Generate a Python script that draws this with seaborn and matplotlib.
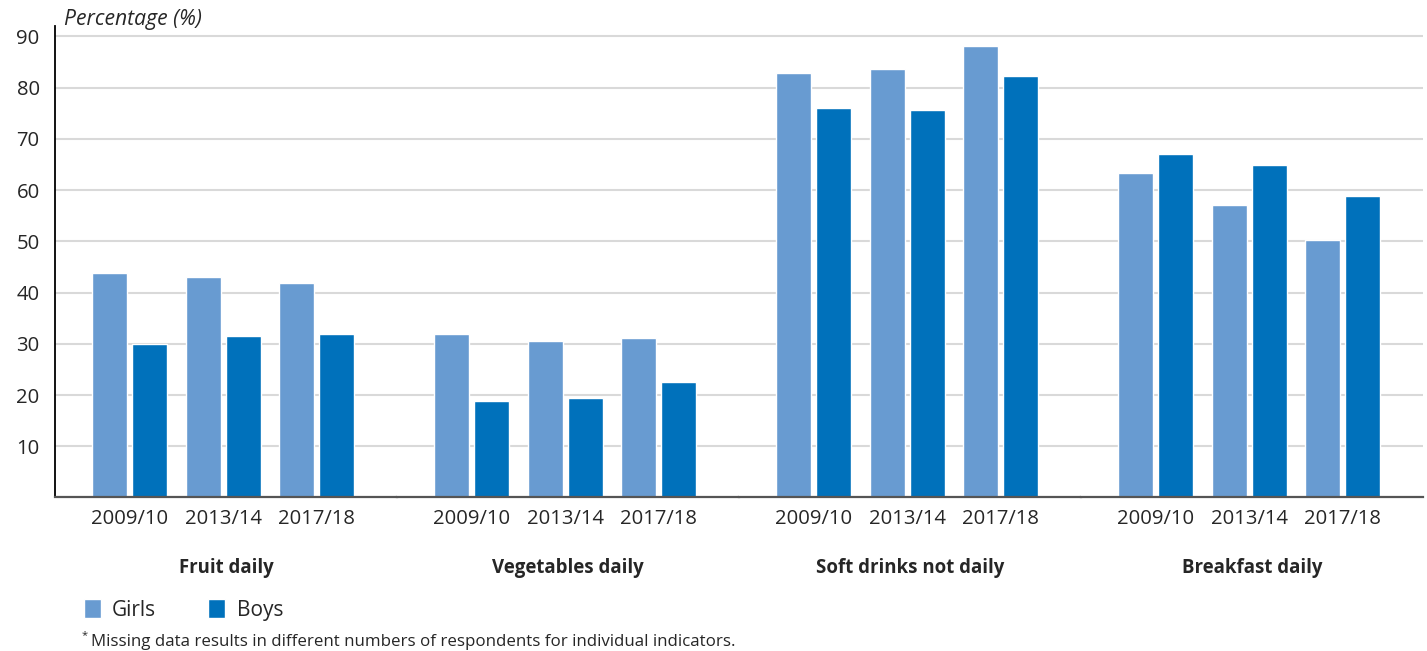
import pandas as pd
import matplotlib
matplotlib.use('Agg')
import matplotlib.pyplot as plt
import seaborn as sns

# values
indicators = ['Fruit daily', 'Vegetables daily', 'Soft drinks not daily', 'Breakfast daily']
surveys = ['2009/10', '2013/14', '2017/18']
sexes = ['Girls', 'Boys']
girls = [[43.8, 43.0, 41.9], [31.9, 30.5, 31.1], [82.8, 83.6, 88.1], [63.3, 57.1, 50.3]]
boys = [[30.0, 31.5, 31.9], [18.8, 19.4, 22.5], [76.0, 75.6, 82.3], [67.0, 64.9, 58.8]]
colors = ['#689bd1', '#0071bb']

rows = []
for i, ind in enumerate(indicators):
    for j, yr in enumerate(surveys):
        rows.append((ind, yr, 'Girls', girls[i][j]))
        rows.append((ind, yr, 'Boys', boys[i][j]))
df = pd.DataFrame(rows, columns=['indicator', 'survey', 'sex', 'pct'])

sns.set_style('white')
plt.rcParams['font.family'] = ['Open Sans', 'DejaVu Sans']
fs = 14.6

fig, axes = plt.subplots(1, 4, figsize=(14.27, 6.51), dpi=100, sharey=True)
fig.subplots_adjust(left=0.0385, right=0.9972, bottom=0.2358, top=0.96, wspace=0)

xlo, xhi = -0.8, 2.86
for k, (ax, ind) in enumerate(zip(axes, indicators)):
    sub = df[df['indicator'] == ind]
    sns.barplot(data=sub, x='survey', y='pct', hue='sex', order=surveys,
                hue_order=sexes, palette=colors, width=0.856, gap=0.126,
                saturation=1, ax=ax, legend=(k == 0))
    ax.set_xlim(xlo, xhi)
    ax.set_ylim(0, 92)
    ax.set_yticks(range(10, 100, 10))
    ax.grid(axis='y', color='#d9d9d9', lw=1.5)
    ax.set_axisbelow(True)
    for s in ['top', 'right', 'left']:
        ax.spines[s].set_visible(False)
    ax.spines['bottom'].set_color('#555555')
    ax.spines['bottom'].set_linewidth(1.6)
    ax.tick_params(axis='x', which='major', length=0, pad=8.5, labelsize=fs)
    # group separator ticks
    ax.set_xticks([xhi] if k else [xlo, xhi], minor=True)
    ax.tick_params(axis='x', which='minor', length=10, width=1.6,
                   color='#555555', direction='out')
    ax.set_xlabel(ind, fontsize=13.4, fontweight='bold', labelpad=21)
    ax.set_ylabel('')
    if k == 0:
        ax.spines['left'].set_visible(True)
        ax.spines['left'].set_color('black')
        ax.spines['left'].set_linewidth(1.3)
        ax.tick_params(axis='y', length=8, width=1.2, color='black',
                       direction='out', labelsize=fs, pad=3)
    else:
        ax.tick_params(axis='y', left=False)

fig.text(64 / 1427, 1 - 20 / 651, 'Percentage (%)', style='italic',
         fontsize=15.2, va='center', ha='left')

sns.move_legend(axes[0], 'center left', bbox_to_anchor=(82 / 1427, 1 - 610 / 651),
                bbox_transform=fig.transFigure, ncol=2, frameon=False, title=None,
                handlelength=0.8, handleheight=1.05, columnspacing=2.5,
                handletextpad=0.55, borderaxespad=0, borderpad=0.1, fontsize=15)

fig.text(82 / 1427, 1 - 636 / 651, '*', fontsize=8, va='center', ha='left')
fig.text(91 / 1427, 1 - 642 / 651,
         'Missing data results in different numbers of respondents for individual indicators.',
         fontsize=12.2, va='center', ha='left')

fig.savefig('out.png', dpi=100)
